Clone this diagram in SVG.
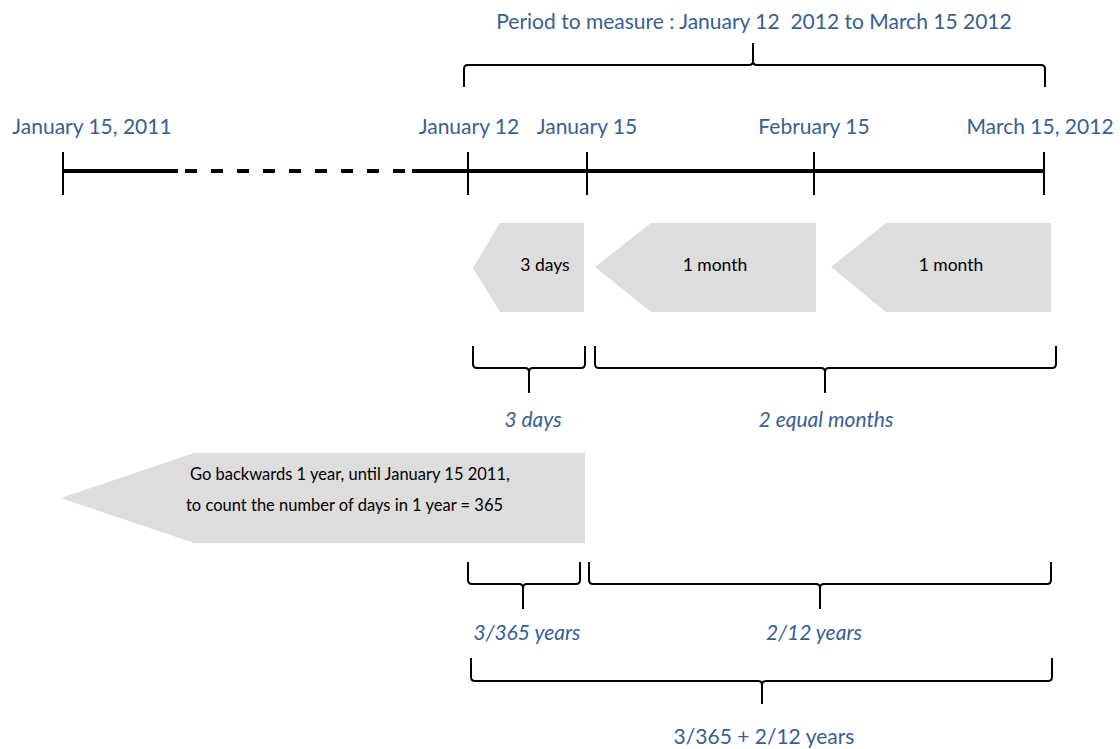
<svg xmlns="http://www.w3.org/2000/svg" width="1120" height="749" viewBox="0 0 1120 749">
<style>
.lbl{font-family:Lato,"Liberation Sans",sans-serif;font-size:21px;fill:#376092}
.it{font-style:italic}
.inner{font-family:Lato,"Liberation Sans",sans-serif;font-size:17.5px;fill:#000}
.big{font-size:16.5px}
.brace{fill:none;stroke:#000;stroke-width:2}
.tick{stroke:#000;stroke-width:2}
.line{stroke:#000;stroke-width:4}
.shape{fill:#DDDDDD}
</style>
<rect width="1120" height="749" fill="#fff"/>
<g id="title">
<text class="lbl" x="754" y="29" text-anchor="middle" xml:space="preserve">Period to measure : January 12  2012 to March 15 2012</text>
</g>
<g id="timeline">
<line class="line" x1="63" y1="171" x2="178" y2="171"/>
<line class="line" x1="185" y1="171" x2="410" y2="171" stroke-dasharray="12,14"/>
<line class="line" x1="412" y1="171" x2="1044" y2="171"/>
<line class="tick" x1="63" y1="152" x2="63" y2="195"/>
<line class="tick" x1="468" y1="152" x2="468" y2="195"/>
<line class="tick" x1="587" y1="152" x2="587" y2="195"/>
<line class="tick" x1="814" y1="152" x2="814" y2="195"/>
<line class="tick" x1="1044" y1="152" x2="1044" y2="195"/>
</g>
<g id="dates">
<text class="lbl" x="92" y="134" text-anchor="middle">January 15, 2011</text>
<text class="lbl" x="469" y="134" text-anchor="middle">January 12</text>
<text class="lbl" x="587" y="134" text-anchor="middle">January 15</text>
<text class="lbl" x="814" y="134" text-anchor="middle">February 15</text>
<text class="lbl" x="1040" y="134" text-anchor="middle">March 15, 2012</text>
</g>
<g id="arrow-3days">
<polygon class="shape" points="473,268 500,223 584,223 584,312 500,312"/>
<text class="inner" x="545" y="271" text-anchor="middle">3 days</text>
</g>
<g id="arrow-month1">
<polygon class="shape" points="595,267 651,223 816,223 816,312 651,312"/>
<text class="inner" x="715" y="271" text-anchor="middle">1 month</text>
</g>
<g id="arrow-month2">
<polygon class="shape" points="831,267 886,223 1051,223 1051,312 886,312"/>
<text class="inner" x="951" y="271" text-anchor="middle">1 month</text>
</g>
<g id="arrow-year">
<polygon class="shape" points="61,498 194,453 585,453 585,543 194,543"/>
<text class="inner big" x="190" y="480">Go backwards 1 year, until January 15 2011,</text>
<text class="inner big" x="186" y="511">to count the number of days in 1 year = 365</text>
</g>
<g id="braces">
<path class="brace" d="M464,87 L464,69 Q464,65 468,65 L749,65 Q753,65 753,61 L753,43 M753,61 Q753,65 757,65 L1041,65 Q1045,65 1045,69 L1045,87"/>
<path class="brace" d="M473,346 L473,364 Q473,368 477,368 L525,368 Q529,368 529,372 L529,393 M529,372 Q529,368 533,368 L581,368 Q585,368 585,364 L585,346"/>
<path class="brace" d="M595,346 L595,364 Q595,368 599,368 L821,368 Q825,368 825,372 L825,393 M825,372 Q825,368 829,368 L1052,368 Q1056,368 1056,364 L1056,346"/>
<path class="brace" d="M468,562 L468,580 Q468,584 472,584 L519,584 Q523,584 523,588 L523,609 M523,588 Q523,584 527,584 L576,584 Q580,584 580,580 L580,562"/>
<path class="brace" d="M589,562 L589,580 Q589,584 593,584 L816,584 Q820,584 820,588 L820,609 M820,588 Q820,584 824,584 L1047,584 Q1051,584 1051,580 L1051,562"/>
<path class="brace" d="M471,658 L471,677 Q471,681 475,681 L758,681 Q762,681 762,685 L762,704 M762,685 Q762,681 766,681 L1048,681 Q1052,681 1052,677 L1052,658"/>
</g>
<g id="brace-labels">
<text class="lbl it" x="533" y="427" text-anchor="middle">3 days</text>
<text class="lbl it" x="826" y="427" text-anchor="middle">2 equal months</text>
<text class="lbl it" x="527" y="640" text-anchor="middle">3/365 years</text>
<text class="lbl it" x="814" y="640" text-anchor="middle">2/12 years</text>
<text class="lbl" x="764" y="744" text-anchor="middle">3/365 + 2/12 years</text>
</g>
</svg>
